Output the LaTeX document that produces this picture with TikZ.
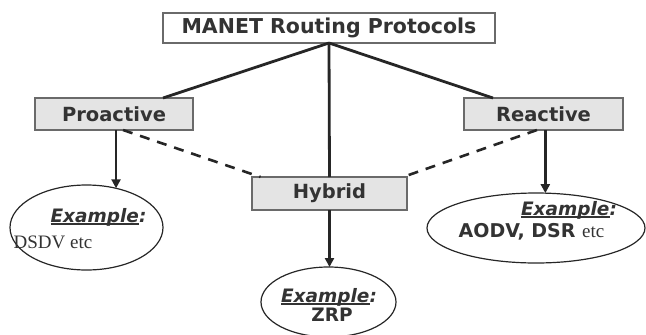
\documentclass[tikz,border=0pt]{standalone}
\usepackage{fontspec}
\setmainfont{DejaVu Sans}
\newfontfamily\serifx{Liberation Serif}
\usetikzlibrary{arrows.meta,shapes.geometric}
\definecolor{txt}{HTML}{333333}
\definecolor{boxline}{HTML}{6A6A6A}
\definecolor{boxfill}{HTML}{E4E4E4}
\definecolor{ink}{HTML}{262626}
\tikzset{
  hdrbox/.style={draw=boxline, line width=1.4pt, fill=white, text=txt,
    font=\fontsize{20.5}{24}\selectfont\bfseries, inner sep=0pt, outer sep=0pt,
    minimum width=332pt, minimum height=30pt},
  catbox/.style={hdrbox, fill=boxfill, font=\fontsize{19.5}{23}\selectfont\bfseries,
    minimum width=158pt, minimum height=32pt},
  exell/.style={ellipse, draw=ink, line width=1.2pt, inner sep=0pt, outer sep=0pt},
  extext/.style={text=txt, font=\fontsize{18.5}{22}\selectfont\bfseries, inner sep=0pt, anchor=base},
  conn/.style={draw=ink, line width=2.8pt},
  dconn/.style={conn, line width=2.6pt, dash pattern=on 10pt off 8pt},
  arr/.style={conn, -{Triangle[length=9pt,width=9pt]}}
}
\newcommand{\ulx}[1]{\setbox0\hbox{#1}\rlap{\rule[-2.5pt]{\wd0}{1.5pt}}\box0}
\newcommand{\exlabel}{\itshape\ulx{Example}:}
\begin{document}
\begin{tikzpicture}[x=1pt,y=-1pt]
\useasboundingbox (0,0) rectangle (646,335);
% boxes
\node[hdrbox] (top) at (329,28) {MANET Routing Protocols};
\node[catbox] (pro) at (114,114) {Proactive};
\node[catbox, minimum width=159pt] (rea) at (543.5,114) {Reactive};
\node[catbox, minimum width=155pt, minimum height=33pt] (hyb) at (329.5,193.5) {Hybrid};
% ellipses
\node[exell, minimum width=153pt, minimum height=85pt] (exL) at (86.5,227.5) {};
\node[exell, minimum width=218pt, minimum height=70pt] (exR) at (536,228) {};
\node[exell, minimum width=135pt, minimum height=70pt] (exZ) at (328.5,302) {};
% texts in ellipses
\node[extext] (exLa) at (98.5,222) {\exlabel};
\node[extext, font=\fontsize{19}{22}\selectfont\serifx] (exLb) at (53,248) {DSDV etc};
\node[extext] (exRa) at (569,215) {\exlabel};
\node[extext, font=\fontsize{19}{22}\selectfont\bfseries] (exRb) at (531.5,237) {AODV, DSR {\serifx\mdseries etc}};
\node[extext] (exZa) at (329,302) {\exlabel};
\node[extext] (exZb) at (332,321) {ZRP};
% connectors
\draw[conn] (top.south) -- ([xshift=49pt]pro.north);
\draw[conn] (top.south) -- ([xshift=-50.5pt]rea.north);
\draw[conn] (top.south) -- (hyb.north);
\draw[dconn] ([xshift=9pt]pro.south) -- ([xshift=-69pt]hyb.north);
\draw[dconn] ([xshift=-6.5pt]rea.south) -- ([xshift=73.5pt]hyb.north);
\draw[arr] (pro.south -| exL.53) -- (exL.53);
\draw[arr] (rea.south -| exR.75.5) -- (exR.75.5);
\draw[arr] (hyb.south) -- (hyb.south |- exZ.north);
\end{tikzpicture}
\end{document}
